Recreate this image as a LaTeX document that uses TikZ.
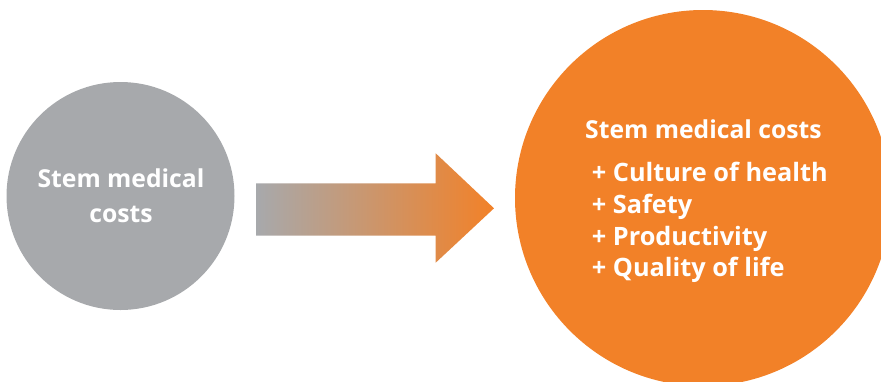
\documentclass[tikz,border=0pt]{standalone}
\usepackage{fontspec}
\setmainfont{Open Sans}
\definecolor{stemgray}{HTML}{A7A9AC}
\definecolor{stemorange}{HTML}{F28128}
\begin{document}
\begin{tikzpicture}[x=1pt,y=-1pt,
  blob/.style={circle,inner sep=0pt,minimum size=#1},
  label/.style={text=white,font=\bfseries\fontsize{24.7}{30}\selectfont,inner sep=0pt},
  item/.style={label,anchor=base west},
  listitem/.style={item,font=\bfseries\fontsize{25.3}{30}\selectfont}]
  \useasboundingbox (0,0) rectangle (881,381);
  % left circle
  \node[blob=228pt,fill=stemgray] (old) at (120.5,196) {};
  \node[label,anchor=base] (oldA) at (121,187) {Stem medical};
  \node[label,anchor=base] (oldB) at (121,222) {costs};
  % right circle
  \begin{scope}
    \clip (0,0) rectangle (881,381);
    \node[blob=376pt,fill=stemorange] (new) at (703,198) {};
  \end{scope}
  % block arrow with grey-to-orange fade
  \shade[left color=stemgray,right color=stemorange]
    (256,183.3) -- (435.7,183.3) -- (435.7,153.3) -- (494,208.3)
    -- (435.7,262.7) -- (435.7,235.7) -- (256,235.7) -- cycle;
  % list of benefits
  \node[item] (title) at (585,138.3) {Stem medical costs};
  \node[listitem] (i1) at (591.7,181.7) {+ Culture of health};
  \node[listitem] (i2) at (591.7,213.3) {+ Safety};
  \node[listitem] (i3) at (591.7,245) {+ Productivity};
  \node[listitem] (i4) at (591.7,276) {+ Quality of life};
\end{tikzpicture}
\end{document}
